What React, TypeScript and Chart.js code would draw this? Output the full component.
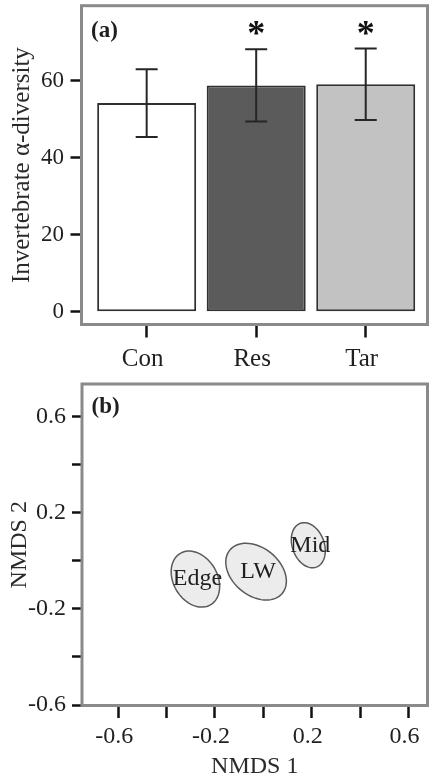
import React, { useEffect, useRef } from 'react';
import { Chart, registerables } from 'chart.js';

Chart.register(...registerables);

const FONT = "'Liberation Serif', 'Times New Roman', Times, serif";
const TEXT = '#1f1f1f';
const FRAME = '#8a8a8a';

// ---- Panel (a): invertebrate alpha-diversity ----
const CATEGORIES = ['Con', 'Res', 'Tar'];
const CAT_POS = [1, 2, 3];
const MEANS = [54.2, 58.8, 59.1];
const SE = [8.8, 9.4, 9.3];
const SIGNIFICANT = [false, true, true];
const BAR_COLORS = ['#ffffff', '#5b5b5b', '#c2c2c2'];
const Y_TICKS_A = [0, 20, 40, 60];

// ---- Panel (b): NMDS ordination ----
const GROUPS = ['Edge', 'LW', 'Mid'];
const NMDS1 = [-0.281, -0.03, 0.186];
const NMDS2 = [-0.076, -0.045, 0.065];
const ELL_MAJOR = [0.124, 0.141, 0.097];
const ELL_MINOR = [0.091, 0.099, 0.066];
const ELL_ANGLE = [-60, -40, -70];
const NMDS_TICKS = [-0.6, -0.4, -0.2, 0, 0.2, 0.4, 0.6];
const NMDS_TICK_LABELS = ['-0.6', '', '-0.2', '', '0.2', '', '0.6'];

function framePlugin(label: string, dy: number) {
  return {
    id: 'frame',
    afterDraw(chart: any) {
      const { ctx, chartArea: a } = chart;
      ctx.save();
      ctx.strokeStyle = FRAME;
      ctx.lineWidth = 3;
      ctx.strokeRect(a.left, a.top, a.right - a.left, a.bottom - a.top);
      ctx.font = `bold 23px ${FONT}`;
      ctx.fillStyle = TEXT;
      ctx.textAlign = 'left';
      ctx.textBaseline = 'middle';
      ctx.fillText(label, a.left + 9.5, a.top + dy);
      ctx.restore();
    },
  };
}

const errorBarPlugin = {
  id: 'errorBars',
  afterDatasetsDraw(chart: any) {
    const { ctx } = chart;
    const xs = chart.scales.x;
    const ys = chart.scales.y;
    ctx.save();
    CAT_POS.forEach((p, i) => {
      const px = xs.getPixelForValue(p);
      const top = ys.getPixelForValue(MEANS[i] + SE[i]);
      const bot = ys.getPixelForValue(MEANS[i] - SE[i]);
      ctx.strokeStyle = '#262626';
      ctx.lineWidth = 2;
      ctx.beginPath();
      ctx.moveTo(px, top);
      ctx.lineTo(px, bot);
      ctx.moveTo(px - 11, top);
      ctx.lineTo(px + 11, top);
      ctx.moveTo(px - 11, bot);
      ctx.lineTo(px + 11, bot);
      ctx.stroke();
      if (SIGNIFICANT[i]) {
        ctx.fillStyle = '#111';
        ctx.font = `bold 36px ${FONT}`;
        ctx.textAlign = 'center';
        ctx.textBaseline = 'middle';
        ctx.fillText('*', px, top - 13);
      }
    });
    ctx.restore();
  },
};

const ellipsePlugin = {
  id: 'ellipses',
  afterDatasetsDraw(chart: any) {
    const { ctx } = chart;
    const xs = chart.scales.x;
    const ys = chart.scales.y;
    ctx.save();
    GROUPS.forEach((g, i) => {
      const th = (ELL_ANGLE[i] * Math.PI) / 180;
      ctx.beginPath();
      for (let k = 0; k <= 72; k++) {
        const t = (k / 72) * Math.PI * 2;
        const dx = ELL_MAJOR[i] * Math.cos(t);
        const dy = ELL_MINOR[i] * Math.sin(t);
        const X = NMDS1[i] + dx * Math.cos(th) - dy * Math.sin(th);
        const Y = NMDS2[i] + dx * Math.sin(th) + dy * Math.cos(th);
        const px = xs.getPixelForValue(X);
        const py = ys.getPixelForValue(Y);
        if (k === 0) ctx.moveTo(px, py);
        else ctx.lineTo(px, py);
      }
      ctx.closePath();
      ctx.fillStyle = '#ececec';
      ctx.fill();
      ctx.strokeStyle = '#5a5a5a';
      ctx.lineWidth = 1.5;
      ctx.stroke();
    });
    GROUPS.forEach((g, i) => {
      ctx.fillStyle = TEXT;
      ctx.font = `24px ${FONT}`;
      ctx.textAlign = 'center';
      ctx.textBaseline = 'middle';
      ctx.fillText(g, xs.getPixelForValue(NMDS1[i]) + 2, ys.getPixelForValue(NMDS2[i]));
    });
    ctx.restore();
  },
};

function noPadV(width: number) {
  return (s: any) => {
    s.width = width;
    s.paddingTop = 0;
    s.paddingBottom = 0;
  };
}
function noPadH(height: number) {
  return (s: any) => {
    s.height = height;
    s.paddingLeft = 0;
    s.paddingRight = 0;
  };
}

export default function App() {
  const refA = useRef<HTMLCanvasElement>(null);
  const refB = useRef<HTMLCanvasElement>(null);

  useEffect(() => {
    const chartA = new Chart(refA.current as HTMLCanvasElement, {
      type: 'bar',
      data: {
        datasets: [
          {
            data: CAT_POS.map((p, i) => ({ x: p, y: MEANS[i] })),
            backgroundColor: BAR_COLORS,
            borderColor: '#303030',
            borderWidth: 2,
            borderSkipped: false,
            barPercentage: 0.904,
            categoryPercentage: 1,
          } as any,
        ],
      },
      options: {
        responsive: false,
        animation: false,
        events: [],
        layout: { padding: { top: 5.7, right: 2.5, left: 0, bottom: 0 } },
        plugins: { legend: { display: false }, tooltip: { enabled: false } },
        scales: {
          x: {
            type: 'linear',
            offset: false,
            min: 0.405,
            max: 3.564,
            afterFit: noPadH(55.5),
            afterBuildTicks: (s: any) => {
              s.ticks = CAT_POS.map((v) => ({ value: v }));
            },
            grid: {
              offset: false,
              drawOnChartArea: false,
              drawTicks: true,
              tickLength: 13,
              tickWidth: 2.5,
              tickColor: '#111',
            },
            border: { display: false },
            ticks: {
              callback: (_v: any, i: number) => CATEGORIES[i],
              font: { family: FONT, size: 25 },
              color: TEXT,
              padding: 7,
              labelOffset: -4,
              maxRotation: 0,
              autoSkip: false,
            },
          },
          y: {
            type: 'linear',
            min: -3.32,
            max: 79.5,
            afterFit: noPadV(81.5),
            afterBuildTicks: (s: any) => {
              s.ticks = Y_TICKS_A.map((v) => ({ value: v }));
            },
            grid: { drawOnChartArea: false, drawTicks: true, tickLength: 11, tickWidth: 2.5, tickColor: '#111' },
            border: { display: false },
            ticks: {
              font: { family: FONT, size: 23 },
              color: TEXT,
              padding: 6.5,
              autoSkip: false,
            },
            title: {
              display: true,
              text: 'Invertebrate α-diversity',
              font: { family: FONT, size: 25 },
              color: '#2a2a2a',
              padding: { top: 7, bottom: 0 },
            },
          },
        },
      },
      plugins: [errorBarPlugin, framePlugin('(a)', 25)],
    } as any);

    const chartB = new Chart(refB.current as HTMLCanvasElement, {
      type: 'scatter',
      data: {
        datasets: [
          {
            data: GROUPS.map((_g, i) => ({ x: NMDS1[i], y: NMDS2[i] })),
            pointRadius: 0,
          },
        ],
      },
      options: {
        responsive: false,
        animation: false,
        events: [],
        layout: { padding: { top: 4, right: 2.5, left: 0, bottom: 0 } },
        plugins: { legend: { display: false }, tooltip: { enabled: false } },
        scales: {
          x: {
            type: 'linear',
            min: -0.75,
            max: 0.679,
            afterFit: noPadH(78.5),
            afterBuildTicks: (s: any) => {
              s.ticks = NMDS_TICKS.map((v) => ({ value: v }));
            },
            grid: { drawOnChartArea: false, drawTicks: true, tickLength: 12.5, tickWidth: 2.5, tickColor: '#111' },
            border: { display: false },
            ticks: {
              callback: (_v: any, i: number) => NMDS_TICK_LABELS[i],
              font: { family: FONT, size: 24 },
              color: TEXT,
              padding: 4.6,
              labelOffset: -4,
              maxRotation: 0,
              autoSkip: false,
            },
            title: {
              display: true,
              text: 'NMDS 1',
              font: { family: FONT, size: 24 },
              color: '#2a2a2a',
              padding: { top: 0, bottom: 2.6 },
            },
          },
          y: {
            type: 'linear',
            min: -0.602,
            max: 0.736,
            afterFit: noPadV(82),
            afterBuildTicks: (s: any) => {
              s.ticks = NMDS_TICKS.map((v) => ({ value: v }));
            },
            grid: { drawOnChartArea: false, drawTicks: true, tickLength: 10, tickWidth: 2.5, tickColor: '#111' },
            border: { display: false },
            ticks: {
              callback: (_v: any, i: number) => NMDS_TICK_LABELS[i],
              font: { family: FONT, size: 24 },
              color: TEXT,
              padding: 6,
              autoSkip: false,
            },
            title: {
              display: true,
              text: 'NMDS 2',
              font: { family: FONT, size: 24 },
              color: '#2a2a2a',
              padding: { top: 5.6, bottom: 0 },
            },
          },
        },
      },
      plugins: [ellipsePlugin, framePlugin('(b)', 23)],
    } as any);

    return () => {
      chartA.destroy();
      chartB.destroy();
    };
  }, []);

  return (
    <div style={{ position: 'fixed', left: 0, top: 0, width: 430, height: 784, background: '#fff' }}>
      <canvas
        ref={refA}
        width={430}
        height={380}
        style={{ position: 'absolute', left: 0, top: 0, width: 430, height: 380 }}
      />
      <canvas
        ref={refB}
        width={430}
        height={404}
        style={{ position: 'absolute', left: 0, top: 380, width: 430, height: 404 }}
      />
    </div>
  );
}
